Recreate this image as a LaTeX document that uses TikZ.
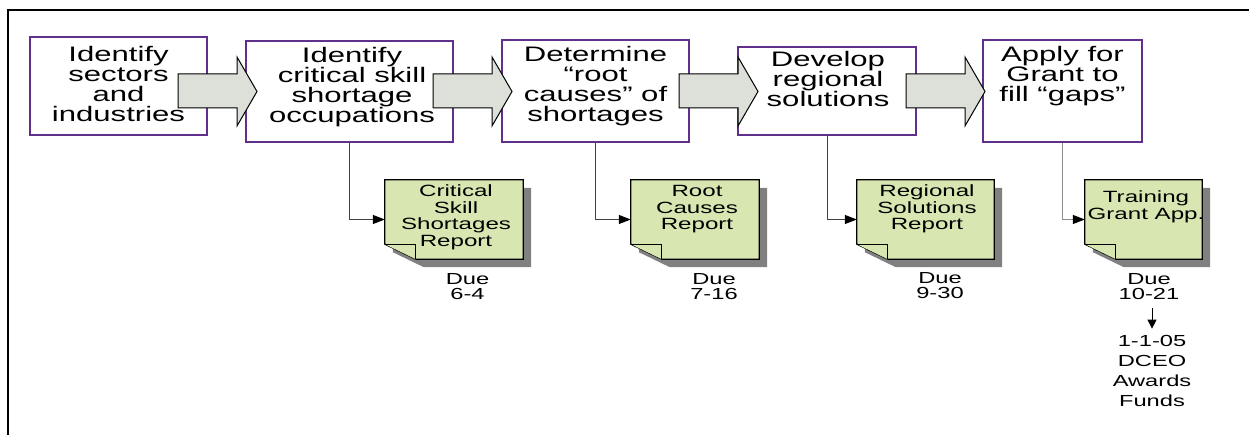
\documentclass[tikz,border=0pt]{standalone}
\usepackage{fontspec}
\setmainfont{Liberation Sans}
\usepackage{graphicx}
\usetikzlibrary{calc,arrows.meta}

\definecolor{stepline}{RGB}{96,48,140}
\definecolor{arrowfill}{RGB}{220,224,216}
\definecolor{notefill}{RGB}{216,230,178}
\definecolor{noteshade}{RGB}{128,128,128}

% wide, centred lines (the text of the chart is stretched sideways)
\newcommand\wid[1]{\scalebox{1.48}[1]{\vtop{\halign{\hfil##\hfil\cr#1\crcr}}}}

\tikzset{
  stepbox/.style={draw=stepline, line width=1.3pt, fill=white},
  steptext/.style={inner sep=0pt, anchor=base, font=\fontsize{21}{20}\selectfont},
  flowarrow/.style={draw=black, fill=arrowfill, line width=1pt, line join=miter},
  notebox/.style={minimum height=79pt, inner sep=0pt},
  notepaper/.style={draw=black, fill=notefill, line width=1.2pt, line join=miter},
  noteshadow/.style={fill=noteshade},
  notetext/.style={inner sep=0pt, anchor=base, font=\fontsize{16.3}{16.4}\selectfont},
  duetext/.style={inner sep=0pt, anchor=base, font=\fontsize{16}{15}\selectfont},
  link/.style={draw=black!75, line width=1pt, -{Triangle[length=12pt,width=9pt,color=black]}},
}

\begin{document}
\begin{tikzpicture}[x=1pt, y=1pt]

\useasboundingbox (0,0) rectangle (1249,435);

% Rahmen
\draw[line width=2pt] (8,0) -- (8,425) -- (1249,425);

% Schritte
\node[stepbox, minimum width=177pt, minimum height=98pt]  (s1) at (118.5,349) {};
\node[stepbox, minimum width=207pt, minimum height=101pt] (s2) at (349.5,343.5) {};
\node[stepbox, minimum width=187pt, minimum height=102pt] (s3) at (595.5,344) {};
\node[stepbox, minimum width=178pt, minimum height=88pt]  (s4) at (827,344) {};
\node[stepbox, minimum width=159pt, minimum height=102pt] (s5) at (1062.5,344) {};

\node[steptext] (t1) at (118.5,373) {\wid{Identify\cr sectors\cr and\cr industries}};
\node[steptext] (t2) at (352,372) {\wid{Identify\cr critical skill\cr shortage\cr occupations}};
\node[steptext] (t3) at (595.5,373) {\wid{Determine\cr “root\cr causes” of\cr shortages}};
\node[steptext] (t4) at (828,368) {\wid{Develop\cr regional\cr solutions}};
\node[steptext] (t5) at (1062.5,373) {\wid{Apply for\cr Grant to\cr fill “gaps”}};

% Blockpfeile
\foreach \ax in {178,433,679,906}
  \draw[flowarrow] (\ax,361) -- ++(59,0) -- ++(0,17) -- ++(20,-34.5)
    -- ++(-20,-34.5) -- ++(0,18) -- ++(-59,0) -- cycle;

% Berichte
\node[notebox, minimum width=138pt] (n1) at (454,215.5) {};
\node[notebox, minimum width=128pt] (n2) at (695,215.5) {};
\node[notebox, minimum width=137pt] (n3) at (925.5,215.5) {};
\node[notebox, minimum width=117pt] (n4) at (1143.5,215.5) {};

\foreach \n in {n1,n2,n3,n4} {
  \fill[noteshadow] ($(\n.north west)+(8,-8)$) -- ($(\n.north east)+(8,-8)$)
    -- ($(\n.south east)+(8,-8)$) -- ($(\n.south west)+(39,-8)$)
    -- ($(\n.south west)+(8,7)$) -- cycle;
  \filldraw[notepaper] (\n.north west) -- (\n.north east) -- (\n.south east)
    -- ($(\n.south west)+(31,0)$) -- ($(\n.south west)+(0,15)$) -- cycle;
  \filldraw[notepaper] ($(\n.south west)+(0,15)$) -- ($(\n.south west)+(31,15)$)
    -- ($(\n.south west)+(31,0)$);
}

\node[notetext] (r1) at (456,238) {\wid{Critical\cr Skill\cr Shortages\cr Report}};
\node[notetext] (r2) at (697,238) {\wid{Root\cr Causes\cr Report}};
\node[notetext] (r3) at (927,238) {\wid{Regional\cr Solutions\cr Report}};
\node[notetext] (r4) at (1146,232) {\wid{Training\cr Grant App.}};

% Termine
\node[duetext] (d1) at (467.5,150) {\wid{Due\cr 6-4}};
\node[duetext] (d2) at (714,150) {\wid{Due\cr 7-16}};
\node[duetext] (d3) at (940,151) {\wid{Due\cr 9-30}};
\node[duetext] (d4) at (1149,150) {\wid{Due\cr 10-21}};
\node[duetext, font=\fontsize{16}{20}\selectfont] (award) at (1152,88)
  {\wid{1-1-05\cr DCEO\cr Awards\cr Funds}};

% Verbindungen
\draw[link] (s2.south) |- (n1.west);
\draw[link] (s3.south) |- (n2.west);
\draw[link] (s4.south) |- (n3.west);
\draw[link, draw=black!45] (s5.south) |- (n4.west);
\draw[line width=1pt, -{Triangle[length=9pt,width=9pt]}, shorten <=8pt, shorten >=7pt]
  (d4.south -| award.north) -- (award.north);

\end{tikzpicture}
\end{document}
